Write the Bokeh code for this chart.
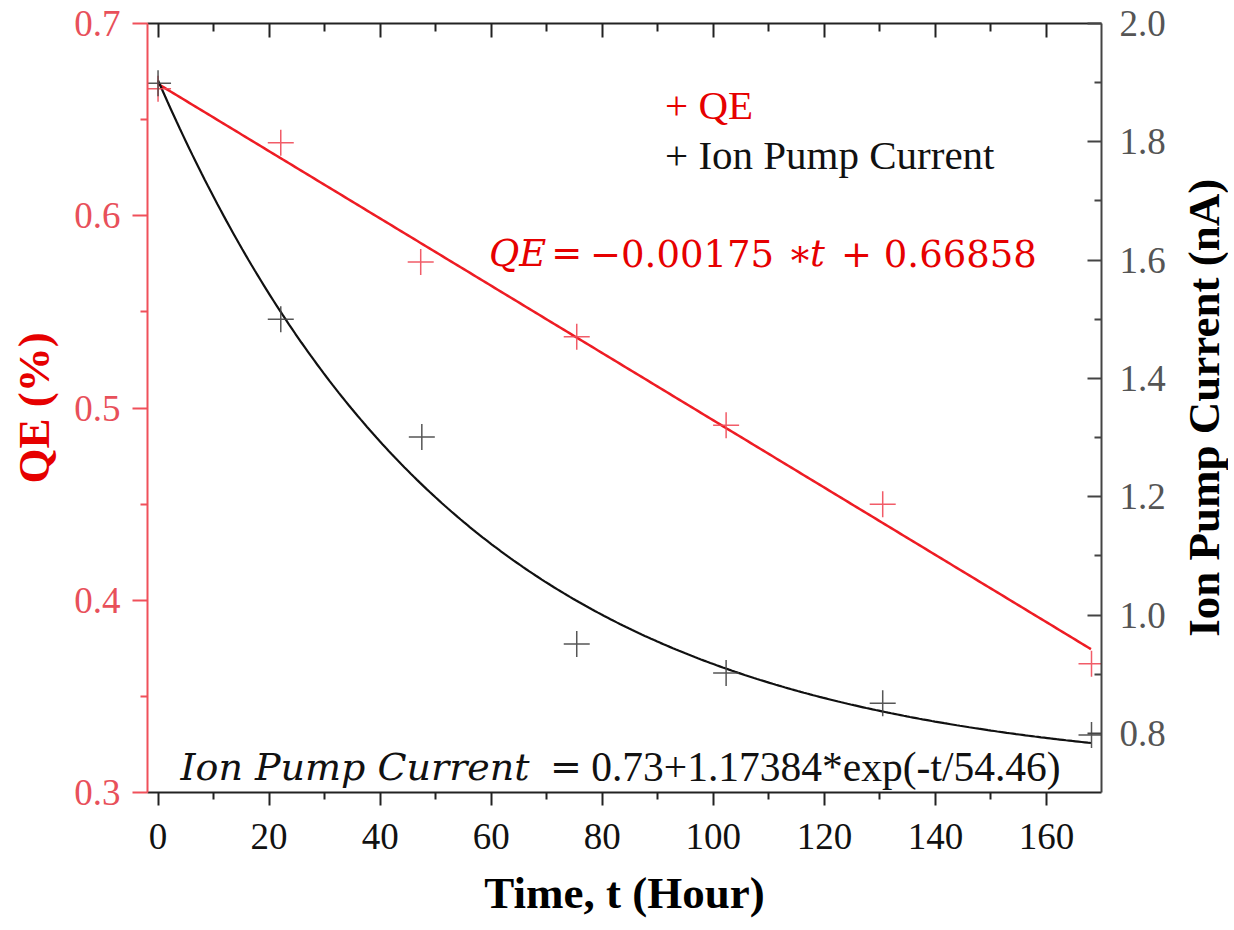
import numpy as np
from bokeh.plotting import figure
from bokeh.layouts import row
from bokeh.models import (Range1d, LinearAxis, FixedTicker, PrintfTickFormatter, Label,
                          CustomJSTickFormatter)
from bokeh.embed import file_html
from bokeh.resources import INLINE

# ---------------- data ----------------
time_qe = [0.0, 22.1, 47.3, 75.4, 102.3, 130.5, 168.1]
qe_values = [0.666, 0.638, 0.576, 0.537, 0.491, 0.450, 0.367]
time_ion = [0.0, 22.1, 47.5, 75.4, 102.3, 130.5, 168.1]
ion_values = [1.899, 1.500, 1.301, 0.951, 0.902, 0.851, 0.797]

# fit parameters printed on the chart
qe_slope = -0.00175
qe_intercept = 0.66858
ion_offset = 0.73
ion_amp = 1.17384
ion_tau = 54.46
fit_t_start, fit_t_end = 0.0, 168.0

x_ticks = [0, 20, 40, 60, 80, 100, 120, 140, 160]
x_minor = [10, 30, 50, 70, 90, 110, 130, 150]
qe_ticks = [0.3, 0.4, 0.5, 0.6, 0.7]
qe_minor = [0.35, 0.45, 0.55, 0.65]
ion_ticks = [0.8, 1.0, 1.2, 1.4, 1.6, 1.8, 2.0]
ion_minor = [0.9, 1.1, 1.3, 1.5, 1.7, 1.9]

# fitted model curves from the printed equations
t_fit = np.linspace(fit_t_start, fit_t_end, 300)
qe_fit = qe_intercept + qe_slope * t_fit
ion_fit = ion_offset + ion_amp * np.exp(-t_fit / ion_tau)

SERIF = "Liberation Serif"
MATH = "DejaVu Serif"
RED_AXIS = "#f0505a"
RED = "#e60000"

p = figure(frame_width=954, frame_height=769,
           x_range=Range1d(-1.9, 169.9), y_range=Range1d(0.3, 0.7),
           output_backend="svg", toolbar_location=None,
           min_border_left=147, min_border_top=23, min_border_right=70, min_border_bottom=10,
           outline_line_color=None, background_fill_color="white", border_fill_color="white")
p.extra_y_ranges = {"ion": Range1d(0.7, 2.0)}
p.xgrid.grid_line_color = None
p.ygrid.grid_line_color = None

# bottom axis
xa = p.xaxis[0]
xa.ticker = FixedTicker(ticks=x_ticks, minor_ticks=x_minor)
xa.axis_label = "Time, t (Hour)"
xa.axis_line_width = 2
xa.axis_line_color = "#222222"
xa.major_tick_line_color = "#222222"
xa.minor_tick_line_color = "#222222"
xa.major_tick_line_width = 2
xa.minor_tick_line_width = 2
xa.major_tick_in = 0
xa.major_tick_out = 13
xa.minor_tick_in = 0
xa.minor_tick_out = 7
xa.major_label_text_font = SERIF
xa.major_label_text_font_size = "37px"
xa.major_label_text_color = "#111111"
xa.major_label_standoff = 18
xa.axis_label_text_font = SERIF
xa.axis_label_text_font_style = "bold"
xa.axis_label_text_font_size = "45px"
xa.axis_label_text_color = "#000000"
xa.axis_label_standoff = 16

# left axis (QE)
ya = p.yaxis[0]
ya.ticker = FixedTicker(ticks=qe_ticks, minor_ticks=qe_minor)
ya.formatter = PrintfTickFormatter(format="%.1f")
ya.axis_label = "QE (%)"
ya.axis_line_width = 2
ya.axis_line_color = RED_AXIS
ya.major_tick_line_color = RED_AXIS
ya.minor_tick_line_color = RED_AXIS
ya.major_tick_line_width = 2
ya.minor_tick_line_width = 2
ya.major_tick_in = 0
ya.major_tick_out = 15
ya.minor_tick_in = 0
ya.minor_tick_out = 7
ya.major_label_text_font = SERIF
ya.major_label_text_font_size = "37px"
ya.major_label_text_color = "#e8505a"
ya.major_label_standoff = 12
ya.axis_label_text_font = SERIF
ya.axis_label_text_font_style = "bold"
ya.axis_label_text_font_size = "45px"
ya.axis_label_text_color = RED
ya.axis_label_standoff = 12

# right axis (Ion pump current)
ra = LinearAxis(y_range_name="ion",
                ticker=FixedTicker(ticks=ion_ticks, minor_ticks=ion_minor),
                formatter=PrintfTickFormatter(format="%.1f"))
ra.axis_line_width = 2
ra.axis_line_color = "#444444"
ra.major_tick_line_color = "#444444"
ra.minor_tick_line_color = "#444444"
ra.major_tick_line_width = 2
ra.minor_tick_line_width = 2
ra.major_tick_in = 14
ra.major_tick_out = 0
ra.minor_tick_in = 7
ra.minor_tick_out = 0
ra.major_label_text_font = SERIF
ra.major_label_text_font_size = "37px"
ra.major_label_text_color = "#555555"
ra.major_label_standoff = 18
p.add_layout(ra, "right")

# top axis (ticks only)
ta = LinearAxis(ticker=FixedTicker(ticks=x_ticks, minor_ticks=x_minor),
                formatter=CustomJSTickFormatter(code="return ''"))
ta.axis_line_width = 2
ta.axis_line_color = "#222222"
ta.major_tick_line_color = "#222222"
ta.minor_tick_line_color = "#222222"
ta.major_tick_line_width = 2
ta.minor_tick_line_width = 2
ta.major_tick_in = 14
ta.major_tick_out = 0
ta.minor_tick_in = 8
ta.minor_tick_out = 0
ta.major_label_standoff = 0
p.add_layout(ta, "above")

# fit lines
p.line(t_fit, qe_fit, line_color="#ee1c24", line_width=2.5)
p.line(t_fit, ion_fit, line_color="#111111", line_width=2.2, y_range_name="ion")

# data markers
p.scatter(time_qe, qe_values, marker="cross", size=26, line_color="#f04a58", line_width=1.5, line_alpha=0.9)
p.scatter(time_ion, ion_values, marker="cross", size=26, line_color="#444444", line_width=1.5,
          line_alpha=0.9, y_range_name="ion")

# legend-like text
p.add_layout(Label(x=91.3, y=0.6575, text="+ QE", text_font=SERIF, text_font_size="41px",
                   text_color=RED, text_baseline="alphabetic"))
p.add_layout(Label(x=91.3, y=0.6316, text="+ Ion Pump Current", text_font=SERIF,
                   text_font_size="41px", text_color="#111111", text_baseline="alphabetic"))

# QE equation pieces
eq_y = 0.5806
pieces = [(59.6, "QE", "italic"), (70.8, "=", "normal"), (77.8, "\u22120.00175", "normal"),
          (113.3, "\u2217", "normal"), (117.4, "t", "italic"), (123.0, "+", "normal"),
          (130.7, "0.66858", "normal")]
for xx, tt, st in pieces:
    p.add_layout(Label(x=xx, y=eq_y, text=tt, text_font=MATH, text_font_size="37px",
                       text_font_style=st, text_color=RED, text_baseline="alphabetic"))

# ion pump equation
eq2_y = 0.3134
p.add_layout(Label(x=4.05, y=eq2_y, text="Ion Pump Current", text_font=MATH, text_font_size="38px",
                   text_font_style="italic", text_color="#111111", text_baseline="alphabetic"))
p.add_layout(Label(x=70.6, y=eq2_y, text="=", text_font=MATH, text_font_size="38px",
                   text_color="#111111", text_baseline="alphabetic"))
p.add_layout(Label(x=78.0, y=eq2_y, text="0.73+1.17384*exp(-t/54.46)", text_font=SERIF,
                   text_font_size="41.5px", text_color="#111111", text_baseline="alphabetic"))

# right-hand title panel: the title reads bottom-to-top as in the reference
TW, TH = 57, 928
pt = figure(width=TW, height=TH, x_range=Range1d(0, TW), y_range=Range1d(0, TH),
            x_axis_type=None, y_axis_type=None, output_backend="svg", toolbar_location=None,
            min_border=0, outline_line_color=None, background_fill_color="white",
            border_fill_color="white")
pt.xgrid.grid_line_color = None
pt.ygrid.grid_line_color = None
pt.add_layout(Label(x=32, y=469, text="Ion Pump Current (nA)", angle=1.5707963,
                    text_align="center", text_baseline="alphabetic", text_font=SERIF,
                    text_font_size="45px", text_font_style="bold", text_color="#000000"))

layout = row(p, pt, spacing=0)
open("out.html", "w").write(file_html(layout, INLINE))
